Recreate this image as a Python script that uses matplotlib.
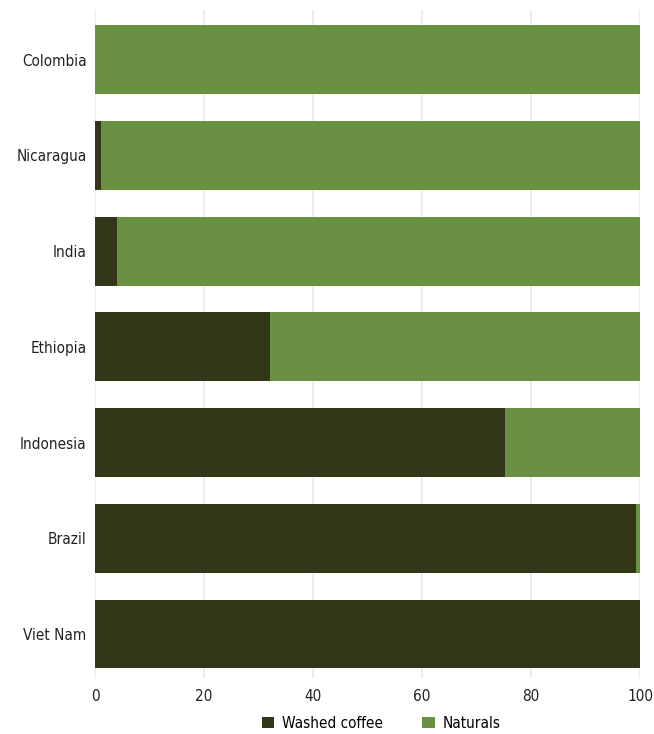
import matplotlib
matplotlib.use("Agg")
import matplotlib.pyplot as plt
import numpy as np

# data (share of production, %)
countries = ["Colombia", "Nicaragua", "India", "Ethiopia", "Indonesia", "Brazil", "Viet Nam"]
washed = [0.0, 1.1, 4.0, 32.1, 75.2, 99.2, 100.0]
naturals = [100 - w for w in washed]
xticks = [0, 20, 40, 60, 80, 100]

plt.rcParams['font.family'] = ['DejaVu Sans']
plt.rcParams['font.stretch'] = 'condensed'

fig = plt.figure(figsize=(6.54, 7.34), dpi=100)
ax = fig.add_axes([95 / 654, 1 - 678 / 734, 545 / 654, 668 / 734])

y = np.arange(len(countries))
ax.barh(y, washed, height=0.72, color='#323719', label='Washed coffee', zorder=2)
ax.barh(y, naturals, left=washed, height=0.72, color='#6a9141', label='Naturals', zorder=2)

ax.set_xlim(0, 100)
ax.set_ylim(6.46, -0.52)
ax.set_yticks(y)
ax.set_yticklabels(countries, fontsize=11, color='#222222')
ax.set_xticks(xticks)
ax.set_xticklabels([str(t) for t in xticks], fontsize=11, color='#222222')
ax.tick_params(axis='y', length=0, pad=6)
ax.tick_params(axis='x', length=0, pad=8)
ax.grid(axis='x', color='#e3ebee', linewidth=1.2, zorder=0)
for s in ax.spines.values():
    s.set_visible(False)

ax.legend(loc='upper center', bbox_to_anchor=(0.525, -0.036), ncol=2, frameon=False,
          fontsize=11, handlelength=0.8, handleheight=0.8, columnspacing=2.6,
          handletextpad=0.5)

fig.savefig("out.png", dpi=100)
